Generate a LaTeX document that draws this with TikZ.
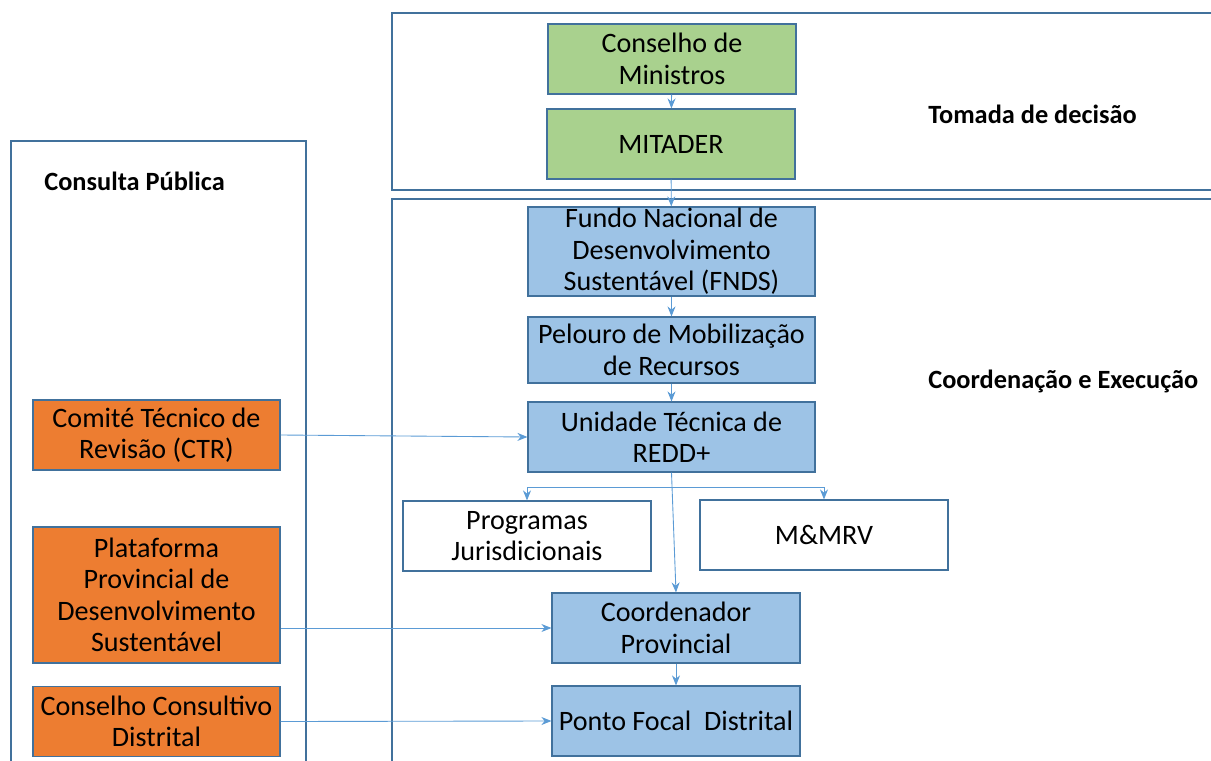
\documentclass[tikz,border=0pt]{standalone}
\usepackage{fontspec}
\setmainfont{Carlito}
\usetikzlibrary{arrows.meta}
\definecolor{boxline}{HTML}{41719C}
\definecolor{arrline}{HTML}{5B9BD5}
\definecolor{verde}{HTML}{A9D18E}
\definecolor{azul}{HTML}{9DC3E6}
\definecolor{laranja}{HTML}{ED7D31}
\begin{document}
\begin{tikzpicture}[x=0.02cm,y=-0.02cm,>={Stealth[length=2mm,width=1.6mm]},
	caixa/.style={draw=boxline,line width=0.7pt,align=center,inner sep=2pt,font=\fontsize{16}{17.9}\selectfont},
	verdebox/.style={caixa,fill=verde,minimum width=4.96cm,minimum height=1.4cm},
	azulbox/.style={caixa,fill=azul,minimum width=5.74cm},
	brancobox/.style={caixa,fill=white,minimum width=4.96cm,minimum height=1.4cm},
	laranjabox/.style={caixa,fill=laranja,minimum width=4.94cm},
	titulo/.style={anchor=west,inner sep=0pt,font=\fontsize{15}{17}\selectfont\bfseries},
	seta/.style={->,draw=arrline,line width=0.5pt,color=arrline},
	painel/.style={draw=boxline,line width=0.7pt}]
	\useasboundingbox (0,0) rectangle (1211,761);
	% paineis
	\draw[painel] (1211,13)--(392,13)--(392,190)--(1211,190);
	\draw[painel] (1211,199)--(392,199)--(392,761);
	\draw[painel] (11,761)--(11,141)--(306,141)--(306,761);
	\node[titulo] (tdec) at (928,114) {Tomada de decisão};
	\node[titulo] (cexe) at (928,381) {Coordenação e Execução};
	\node[titulo] (cpub) at (44,181) {Consulta Pública};
	% decisao
	\node[verdebox] (cmin) at (672,59) {Conselho de\\Ministros};
	\node[verdebox] (mit) at (671,144) {MITADER};
	% coordenacao
	\node[azulbox,minimum height=1.78cm,inner ysep=-1pt] (fnds) at (671.5,251.5) {Fundo Nacional de\\Desenvolvimento\\Sustentável (FNDS)};
	\node[azulbox,minimum height=1.32cm] (pel) at (671.5,350) {Pelouro de Mobilização\\de Recursos};
	\node[azulbox,minimum height=1.4cm] (unid) at (671.5,437) {Unidade Técnica de\\REDD+};
	\node[brancobox] (prog) at (527,536) {Programas\\Jurisdicionais};
	\node[brancobox] (mmrv) at (824,535) {M\&MRV};
	\node[azulbox,minimum width=4.96cm,minimum height=1.4cm] (coord) at (676,628) {Coordenador\\Provincial};
	\node[azulbox,minimum width=4.96cm,minimum height=1.4cm] (ponto) at (676,721) {Ponto Focal~~Distrital};
	% consulta
	\node[laranjabox,minimum height=1.4cm] (ctr) at (156.5,435) {Comité Técnico de\\Revisão (CTR)};
	\node[laranjabox,minimum height=2.72cm] (plat) at (156.5,595) {Plataforma\\Provincial de\\Desenvolvimento\\Sustentável};
	\node[laranjabox,minimum height=1.4cm] (ccd) at (156.5,721.5) {Conselho Consultivo\\Distrital};
	\coordinate (split) at (672,487);
	% setas
	\draw[seta] (cmin)--(mit);
	\draw[seta] (mit)--(fnds);
	\draw[seta] (fnds)--(pel);
	\draw[seta] (pel)--(unid);
	\draw[seta] (split)-|(prog.north);
	\draw[seta] (split)-|(mmrv.north);
	\draw[seta] (unid.south)--(coord.north);
	\draw[seta] (coord)--(ponto);
	\draw[seta] (ctr.east)--(unid.west);
	\draw[seta] (plat.east |- coord.west)--(coord.west);
	\draw[seta] (ccd.east)--(ponto.west);
\end{tikzpicture}
\end{document}
